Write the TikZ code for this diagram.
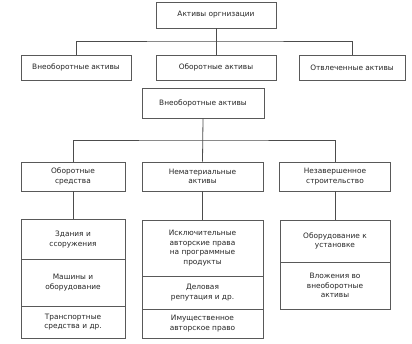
\documentclass[tikz,border=0pt]{standalone}
\usepackage{fontspec}
\setmainfont{DejaVu Sans}
\begin{document}
\begin{tikzpicture}[x=1pt,y=-1pt,
  box/.style={draw=black!65, line width=0.9pt, fill=white, inner sep=1pt, align=center,
    font=\fontsize{7.4}{9.7}\selectfont, text=black!85},
  conn/.style={draw=black!70, line width=0.8pt}]
\useasboundingbox (0,0) rectangle (412,343);
% level 1
\node[box, minimum width=120pt, minimum height=26pt] (top) at (216,15) {Активы оргнизации};
% level 2
\node[box, minimum width=110pt, minimum height=25pt] (l1) at (76,67.5) {Внеоборотные активы};
\node[box, minimum width=120pt, minimum height=25pt] (l2) at (216,67.5) {Оборотные активы};
\node[box, minimum width=106pt, minimum height=25pt] (l3) at (352,67.5) {Отвлеченные активы};
\coordinate (j1) at (216,41);
\draw[conn] (top.south) -- (l2.north);
\draw[conn] (l1.north) |- (j1) -| (l3.north);
% second tree
\node[box, minimum width=122pt, minimum height=30pt] (v) at (203,103) {Внеоборотные активы};
\node[box, minimum width=104pt, minimum height=29pt] (a) at (73,176.5) {Оборотные\\средства};
\node[box, minimum width=121pt, minimum height=29pt] (b) at (202.5,176.5) {Нематериальные\\активы};
\node[box, minimum width=111pt, minimum height=29pt] (c) at (335,176.5) {Незавершенное\\строительство};
\coordinate (j2) at (203,140);
\draw[conn] (v.south) -- (b.north);
\draw[conn] (a.north) |- (j2) -| (c.north);
% stack A
\node[box, minimum width=104pt, minimum height=40pt] (a1) at (73,239.5) {Здания и\\ссоружения};
\node[box, minimum width=104pt, minimum height=47pt] (a2) at (73,282.5) {Машины и\\оборудование};
\node[box, minimum width=104pt, minimum height=32pt] (a3) at (73,322) {Транспортные\\средства и др.};
% stack B
\node[box, minimum width=121pt, minimum height=56pt] (b1) at (202.5,248) {Исключительные\\авторские права\\на программные\\продукты};
\node[box, minimum width=121pt, minimum height=33pt] (b2) at (202.5,292.5) {Деловая\\репутация и др.};
\node[box, minimum width=121pt, minimum height=29pt] (b3) at (202.5,323.5) {Имущественное\\авторское право};
% stack C
\node[box, minimum width=110pt, minimum height=42pt] (c1) at (335,241) {Оборудование к\\установке};
\node[box, minimum width=110pt, minimum height=47pt] (c2) at (335,285.5) {Вложения во\\внеоборотные\\активы};
\draw[conn] (a.south) -- (a1.north);
\draw[conn] (b.south) -- (b1.north);
\draw[conn] (c.south) -- (c1.north);
\end{tikzpicture}
\end{document}
